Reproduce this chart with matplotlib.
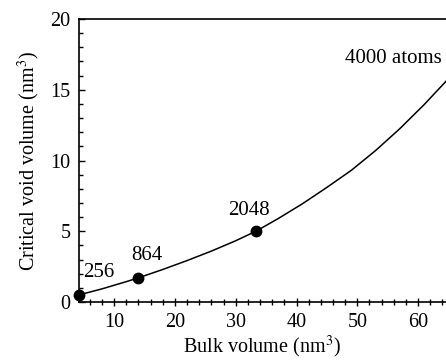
import matplotlib
matplotlib.use("Agg")
import matplotlib.pyplot as plt
from matplotlib.ticker import MultipleLocator

plt.rcParams['font.family'] = ['Liberation Serif', 'DejaVu Serif']
plt.rcParams['mathtext.fontset'] = 'stix'

# simulated cells: atom count, bulk volume and critical void volume (nm^3)
atoms = [256, 864, 2048]
bulk = [4.2, 14.0, 33.4]
void = [0.5, 1.72, 5.02]

# smooth trend through the simulated cells
curve_x = [4.2, 8, 12, 14, 18, 22, 26, 30, 33.4, 37, 41, 45, 49, 53, 57, 61, 64.6]
curve_y = [0.5, 0.93, 1.44, 1.71, 2.30, 2.93, 3.60, 4.33, 5.02, 5.90, 6.95,
           8.10, 9.30, 10.70, 12.25, 13.95, 15.6]

label_pos = [(7.5, 2.12), (15.4, 3.32), (32.15, 6.47)]

fig = plt.figure(figsize=(4.46, 3.61), dpi=100)
ax = fig.add_axes([0.177, 0.1634, 0.823, 0.7839])

ax.plot(curve_x, curve_y, color='black', lw=1.1, zorder=2)
ax.plot(bulk, void, 'o', color='black', ms=7.5, clip_on=False, zorder=3)

for n, (tx, ty) in zip(atoms, label_pos):
    ax.text(tx, ty, str(n), fontsize=15, ha='center', va='center')
ax.text(55.9, 17.2, '4000 atoms', fontsize=15, ha='center', va='center')

ax.set_xlim(4.2, 64.6)
ax.set_ylim(0, 20)
ax.xaxis.set_major_locator(MultipleLocator(10))
ax.xaxis.set_minor_locator(MultipleLocator(2))
ax.yaxis.set_major_locator(MultipleLocator(5))
ax.yaxis.set_minor_locator(MultipleLocator(1))

ax.spines['right'].set_visible(False)
for s in ['left', 'top', 'bottom']:
    ax.spines[s].set_linewidth(1.2)

ax.tick_params(axis='x', which='both', direction='inout', labelsize=14.5, pad=5, width=1)
ax.tick_params(axis='x', which='major', length=6)
ax.tick_params(axis='x', which='minor', length=4)
ax.tick_params(axis='y', which='both', direction='in', labelsize=14.5, pad=6, width=1)
ax.tick_params(axis='y', which='major', length=4)
ax.tick_params(axis='y', which='minor', length=3)

ax.set_xlabel('Bulk volume (nm$^3$)', fontsize=14.5, labelpad=1)
ax.set_ylabel('Critical void volume (nm$^3$)', fontsize=14.5, labelpad=6)

fig.savefig('out.png', dpi=100)
